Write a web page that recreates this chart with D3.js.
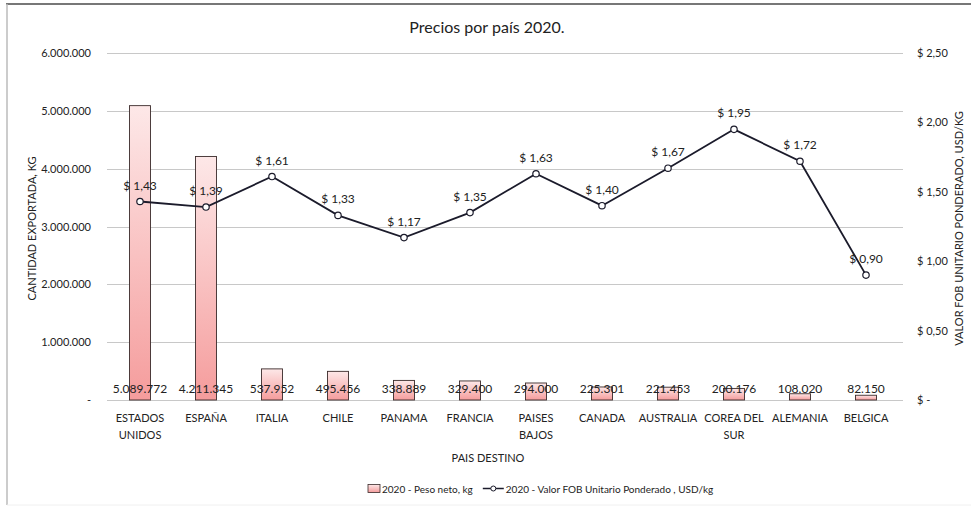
<!DOCTYPE html>
<html>
<head>
<meta charset="utf-8">
<script src="https://cdn.jsdelivr.net/npm/d3@7"></script>
<style>
  body { margin: 0; background: #fff; }
  svg { display: block; font-family: Lato, "Open Sans", sans-serif; }
</style>
</head>
<body>
<svg id="chart" width="971" height="508"></svg>
<script>
const categories = [["ESTADOS", "UNIDOS"], ["ESPAÑA"], ["ITALIA"], ["CHILE"], ["PANAMA"], ["FRANCIA"], ["PAISES", "BAJOS"], ["CANADA"], ["AUSTRALIA"], ["COREA DEL", "SUR"], ["ALEMANIA"], ["BELGICA"]];
const pesoNeto = [5089772, 4211345, 537952, 495456, 338889, 329400, 294000, 225301, 221453, 200176, 108020, 82150];
const valorFOB = [1.43, 1.39, 1.61, 1.33, 1.17, 1.35, 1.63, 1.40, 1.67, 1.95, 1.72, 0.90];
const leftTicks = [0, 1000000, 2000000, 3000000, 4000000, 5000000, 6000000];
const rightTicks = [0, 0.5, 1.0, 1.5, 2.0, 2.5];
const title = "Precios por país 2020.";
const seriesNames = ["2020 - Peso neto, kg", "2020 - Valor FOB Unitario Ponderado , USD/kg"];

const svg = d3.select("#chart");
const W = 971, H = 508;
const plot = { left: 107, right: 899, top: 53, bottom: 400 };

const fmtInt = v => v === 0 ? "-" : d3.format(",")(v).replace(/,/g, ".");
const fmtMoney = v => v === 0 ? "$ -" : "$ " + v.toFixed(2).replace(".", ",");

// frame
svg.append("line").attr("x1", 6).attr("x2", W).attr("y1", 4).attr("y2", 4).attr("stroke", "#777").attr("stroke-width", 2);
svg.append("line").attr("x1", 7).attr("x2", 7).attr("y1", 4).attr("y2", 505).attr("stroke", "#bbb").attr("stroke-width", 1.5);
svg.append("line").attr("x1", 7).attr("x2", W).attr("y1", 505).attr("y2", 505).attr("stroke", "#f0f0f0").attr("stroke-width", 1);

const x = d3.scaleBand().domain(d3.range(categories.length)).range([plot.left, plot.right]).paddingInner(0).paddingOuter(0);
const yL = d3.scaleLinear().domain([0, 6000000]).range([plot.bottom, plot.top]);
const yR = d3.scaleLinear().domain([0, 2.5]).range([plot.bottom, plot.top]);

// gradient
const defs = svg.append("defs");
const grad = defs.append("linearGradient").attr("id", "barGrad").attr("x1", 0).attr("y1", 0).attr("x2", 0).attr("y2", 1);
grad.append("stop").attr("offset", "0%").attr("stop-color", "#fde8e8");
grad.append("stop").attr("offset", "100%").attr("stop-color", "#f59c9c");

// gridlines
svg.append("g").selectAll("line").data(leftTicks).join("line")
  .attr("x1", plot.left).attr("x2", plot.right + 4)
  .attr("y1", d => Math.round(yL(d)) + 0.5).attr("y2", d => Math.round(yL(d)) + 0.5)
  .attr("stroke", "#c8c8c8").attr("stroke-width", 1);

// left axis
const axL = svg.append("g").attr("transform", `translate(${plot.left - 16},0)`)
  .call(d3.axisLeft(yL).tickValues(leftTicks).tickFormat(fmtInt).tickSize(0).tickPadding(0));
axL.select(".domain").remove();
axL.selectAll("text").attr("font-size", 11).attr("fill", "#222").attr("font-family", "Lato, sans-serif");

// right axis
const axR = svg.append("g").attr("transform", `translate(${plot.right + 18},0)`)
  .call(d3.axisRight(yR).tickValues(rightTicks).tickFormat(fmtMoney).tickSize(0).tickPadding(0));
axR.select(".domain").remove();
axR.selectAll("text").attr("font-size", 11).attr("fill", "#222").attr("font-family", "Lato, sans-serif");

// bars
const bw = 21;
svg.append("g").selectAll("rect").data(pesoNeto).join("rect")
  .attr("x", (d, i) => x(i) + x.bandwidth() / 2 - bw / 2)
  .attr("y", d => yL(d))
  .attr("width", bw)
  .attr("height", d => plot.bottom - yL(d))
  .attr("fill", "url(#barGrad)")
  .attr("stroke", "#3a2a2a").attr("stroke-width", 0.9);

// bar labels
svg.append("g").selectAll("text").data(pesoNeto).join("text")
  .attr("x", (d, i) => x(i) + x.bandwidth() / 2)
  .attr("y", plot.bottom - 7)
  .attr("text-anchor", "middle").attr("font-size", 12).attr("fill", "#222")
  .text(d => fmtInt(d));

// line
const line = d3.line().x((d, i) => x(i) + x.bandwidth() / 2).y(d => yR(d));
svg.append("path").datum(valorFOB).attr("d", line)
  .attr("fill", "none").attr("stroke", "#1b1b2b").attr("stroke-width", 1.8);
svg.append("g").selectAll("circle").data(valorFOB).join("circle")
  .attr("cx", (d, i) => x(i) + x.bandwidth() / 2).attr("cy", d => yR(d)).attr("r", 3.2)
  .attr("fill", "#fff").attr("stroke", "#1b1b2b").attr("stroke-width", 1.2);
svg.append("g").selectAll("text").data(valorFOB).join("text")
  .attr("x", (d, i) => x(i) + x.bandwidth() / 2)
  .attr("y", d => yR(d) - 12)
  .attr("text-anchor", "middle").attr("font-size", 12).attr("fill", "#222")
  .text(d => fmtMoney(d));

// category labels
const cat = svg.append("g").selectAll("text").data(categories).join("text")
  .attr("x", (d, i) => x(i) + x.bandwidth() / 2)
  .attr("y", 422).attr("text-anchor", "middle").attr("font-size", 11).attr("fill", "#222");
cat.each(function(d, i) {
  const t = d3.select(this);
  d.forEach((s, k) => t.append("tspan").attr("x", x(i) + x.bandwidth() / 2).attr("dy", k === 0 ? 0 : 17).text(s));
});

// titles
svg.append("text").attr("x", 487).attr("y", 33).attr("text-anchor", "middle").attr("font-size", 16).attr("fill", "#222").text(title);
svg.append("text").attr("x", 488).attr("y", 462).attr("text-anchor", "middle").attr("font-size", 11).attr("fill", "#222").text("PAIS DESTINO");
svg.append("text").attr("transform", `translate(36,${(plot.top + plot.bottom) / 2 + 2}) rotate(-90)`)
  .attr("text-anchor", "middle").attr("font-size", 11).attr("fill", "#222").text("CANTIDAD EXPORTADA, KG");
svg.append("text").attr("transform", `translate(963,${(plot.top + plot.bottom) / 2 + 2}) rotate(-90)`)
  .attr("text-anchor", "middle").attr("font-size", 11).attr("fill", "#222").text("VALOR FOB UNITARIO PONDERADO, USD/KG");

// legend
const lg = svg.append("g");
lg.append("rect").attr("x", 368).attr("y", 484.5).attr("width", 12).attr("height", 8)
  .attr("fill", "url(#barGrad)").attr("stroke", "#3a2a2a").attr("stroke-width", 0.8);
const t1 = lg.append("text").attr("x", 382).attr("y", 492.5).attr("font-size", 10).attr("fill", "#222").text(seriesNames[0]);
const w1 = t1.node().getComputedTextLength();
const lx = 382 + w1 + 10;
lg.append("line").attr("x1", lx).attr("x2", lx + 21).attr("y1", 488.5).attr("y2", 488.5).attr("stroke", "#1b1b2b").attr("stroke-width", 1.5);
lg.append("circle").attr("cx", lx + 10.5).attr("cy", 488.5).attr("r", 2.5).attr("fill", "#fff").attr("stroke", "#1b1b2b").attr("stroke-width", 1);
lg.append("text").attr("x", lx + 23).attr("y", 492.5).attr("font-size", 10).attr("fill", "#222").text(seriesNames[1]);
</script>
</body>
</html>
